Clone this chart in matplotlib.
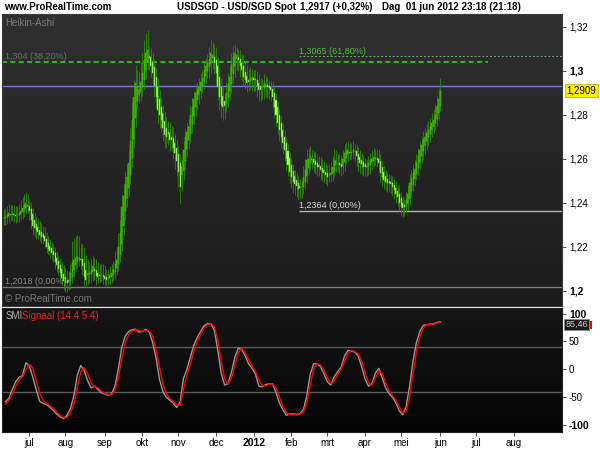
import matplotlib
matplotlib.use("Agg")
import matplotlib.pyplot as plt
import matplotlib.transforms as mtransforms
from matplotlib.colors import LinearSegmentedColormap
import numpy as np
import pandas as pd

plt.rcParams['font.family'] = ['Liberation Sans', 'DejaVu Sans']

# Heikin-Ashi close, one row per week (Mon..Fri), 10 jun 2011 -> 01 jun 2012
ha_close = [
    1.2330, 1.2336, 1.2345, 1.2352, 1.2348,
    1.2350, 1.2342, 1.2338, 1.2345, 1.2355,
    1.2362, 1.2375, 1.2390, 1.2398, 1.2385,
    1.2360, 1.2320, 1.2295, 1.2285, 1.2275,
    1.2265, 1.2255, 1.2245, 1.2240, 1.2225,
    1.2200, 1.2190, 1.2180, 1.2170, 1.2160,
    1.2130, 1.2115, 1.2100, 1.2080, 1.2057,
    1.2045, 1.2035, 1.2034, 1.2050, 1.2080,
    1.2125, 1.2140, 1.2150, 1.2152, 1.2148,
    1.2140, 1.2110, 1.2060, 1.2050, 1.2075,
    1.2080, 1.2095, 1.2110, 1.2090, 1.2065,
    1.2063, 1.2068, 1.2070, 1.2062, 1.2055,
    1.2050, 1.2058, 1.2070, 1.2080, 1.2095,
    1.2120, 1.2140, 1.2200, 1.2260, 1.2380,
    1.2430, 1.2480, 1.2516, 1.2580, 1.2680,
    1.2776, 1.2880, 1.2944, 1.2926, 1.2912,
    1.2950, 1.2990, 1.3048, 1.3080, 1.3094,
    1.3057, 1.3020, 1.2989, 1.2930, 1.2880,
    1.2820, 1.2800, 1.2776, 1.2740, 1.2708,
    1.2700, 1.2710, 1.2685, 1.2685, 1.2650,
    1.2625, 1.2590, 1.2540, 1.2470, 1.2560,
    1.2640, 1.2700, 1.2720, 1.2744, 1.2800,
    1.2835, 1.2870, 1.2898, 1.2910, 1.2926,
    1.2950, 1.2965, 1.3003, 1.3020, 1.3034,
    1.3050, 1.3080, 1.3070, 1.3034, 1.2990,
    1.2926, 1.2880, 1.2844, 1.2835, 1.2840,
    1.2898, 1.2940, 1.2970, 1.3030, 1.3062,
    1.3080, 1.3070, 1.3048, 1.3020, 1.3003,
    1.2970, 1.2957, 1.2944, 1.2950, 1.2965,
    1.2970, 1.2960, 1.2957, 1.2930, 1.2912,
    1.2912, 1.2920, 1.2944, 1.2935, 1.2926,
    1.2920, 1.2912, 1.2880, 1.2835, 1.2800,
    1.2760, 1.2730, 1.2700, 1.2670, 1.2640,
    1.2600, 1.2570, 1.2540, 1.2518, 1.2495,
    1.2487, 1.2475, 1.2463, 1.2466, 1.2470,
    1.2516, 1.2550, 1.2594, 1.2600, 1.2608,
    1.2600, 1.2580, 1.2570, 1.2563, 1.2560,
    1.2549, 1.2540, 1.2534, 1.2525, 1.2516,
    1.2525, 1.2534, 1.2560, 1.2594, 1.2590,
    1.2580, 1.2570, 1.2563, 1.2600, 1.2625,
    1.2635, 1.2639, 1.2625, 1.2630, 1.2639,
    1.2635, 1.2610, 1.2594, 1.2580, 1.2575,
    1.2563, 1.2560, 1.2563, 1.2580, 1.2594,
    1.2600, 1.2608, 1.2605, 1.2594, 1.2580,
    1.2534, 1.2515, 1.2503, 1.2495, 1.2489,
    1.2489, 1.2485, 1.2470, 1.2457, 1.2440,
    1.2426, 1.2400, 1.2380, 1.2375, 1.2380,
    1.2410, 1.2440, 1.2489, 1.2510, 1.2534,
    1.2555, 1.2580, 1.2610, 1.2639, 1.2660,
    1.2685, 1.2700, 1.2716, 1.2730, 1.2744,
    1.2760, 1.2776, 1.2800, 1.2835, 1.2870,
    1.2909,
]

# typical wick length above / below the body for each week (x 0.001)
wick_up = [4, 4, 5, 3, 4, 3, 3, 4, 10, 7, 5, 5, 4, 6, 6, 8, 9, 4, 4, 5, 4, 4, 4, 4, 6, 4,
           5, 4, 5, 4, 4, 3, 3, 3, 3, 5, 4, 4, 5, 4, 4, 3, 3, 4, 3, 3, 3, 4, 4, 4, 5, 6]
wick_dn = [3, 3, 3, 4, 3, 3, 3, 4, 3, 4, 4, 3, 3, 3, 4, 4, 4, 5, 6, 5, 7, 4, 4, 3, 5, 6,
           4, 5, 4, 5, 5, 5, 5, 5, 5, 3, 4, 4, 3, 4, 3, 5, 4, 3, 4, 4, 4, 3, 3, 4, 3, 2]

# SMI and its signal line, read every second bar
smi = [
    -58, -52, -36, -22, -14, -11, 12, 6,
    -14, -36, -57, -61, -63, -68, -73, -80,
    -85, -88, -82, -70, -47, -10, 7, -2,
    -20, -33, -30, -36, -42, -44, -46, -44,
    -30, 2, 40, 60, 68, 71, 72, 67,
    68, 72, 67, 48, 20, -18, -40, -50,
    -55, -60, -68, -58, -16, 0, 22, 43,
    57, 68, 78, 82, 82, 70, 35, -7,
    -28, -25, -5, 22, 38, 36, 24, 10,
    2, -8, -30, -31, -27, -26, -26, -41,
    -60, -72, -82, -80, -79, -81, -79, -72,
    -47, -8, 10, 10, 5, -8, -22, -28,
    -13, -4, 4, 24, 34, 33, 31, 24,
    5, -17, -30, -25, -7, 2, -15, -33,
    -43, -50, -60, -74, -81, -67, -30, 15,
    48, 68, 79, 80, 81, 82, 84, 85.46,
]
smi_signal = [
    -62, -56, -44, -30, -19, -13, -1, 9,
    2, -20, -42, -56, -61, -65, -70, -76,
    -82, -86, -86, -78, -62, -32, -4, 3,
    -8, -24, -31, -33, -39, -43, -45, -45,
    -38, -14, 20, 48, 63, 69, 71, 70,
    68, 70, 69, 59, 35, 3, -27, -44,
    -52, -57, -64, -64, -35, -9, 10, 32,
    50, 62, 73, 80, 82, 77, 52, 14,
    -17, -27, -15, 8, 30, 38, 30, 17,
    6, -3, -19, -29, -29, -27, -26, -33,
    -50, -66, -77, -81, -80, -80, -80, -76,
    -60, -27, 1, 10, 8, -1, -15, -25,
    -21, -9, 0, 14, 29, 34, 32, 28,
    15, -6, -24, -28, -16, -3, -7, -24,
    -38, -47, -55, -67, -78, -75, -48, -8,
    32, 58, 74, 80, 80, 81, 83, 84.53,
]

month_names = ['jan', 'feb', 'mrt', 'apr', 'mei', 'jun', 'jul', 'aug', 'sep', 'okt', 'nov', 'dec']
price_ticks = [1.20, 1.22, 1.24, 1.26, 1.28, 1.30, 1.32]
price_labels = ['1,2', '1,22', '1,24', '1,26', '1,28', '1,3', '1,32']
smi_ticks = [-100, -50, 0, 50, 100]
smi_labels = ['-100', '-50', '0', '50', '100']

fib_382, fib_618 = 1.304, 1.3065
low_a, low_b = 1.2018, 1.2364
blue_level = 1.2930
last_close = 1.2909

# ---- derived
close = np.array(ha_close)
n = len(close)
opens = np.empty(n)
opens[0] = close[0]
for i in range(1, n):
    opens[i] = (opens[i - 1] + close[i - 1]) / 2
idx = np.arange(n)
wk = idx // 5
hi = np.maximum(opens, close) + np.array(wick_up)[wk] * 0.001
lo = np.minimum(opens, close) - np.array(wick_dn)[wk] * 0.001

axis_days = pd.bdate_range('2011-06-10', '2012-08-31')
tick_pos, tick_lab = [], []
for i in range(1, len(axis_days)):
    if axis_days[i].month != axis_days[i - 1].month:
        tick_pos.append(i)
        m = axis_days[i].month
        tick_lab.append(str(axis_days[i].year) if m == 1 else month_names[m - 1])
xmax = 326

fig = plt.figure(figsize=(6, 4.5), dpi=100, facecolor='white')
ax = fig.add_axes([0.0033, 0.32, 0.9334, 0.6489])
ax2 = fig.add_axes([0.0033, 0.04, 0.9334, 0.2756])

grad = np.linspace(0, 1, 256).reshape(-1, 1)
ax.imshow(grad, cmap=LinearSegmentedColormap.from_list('g1', ['#1b1b1b', '#303030']),
          extent=[0, 1, 0, 1], transform=ax.transAxes, aspect='auto', zorder=0, origin='lower')
ax2.imshow(grad, cmap=LinearSegmentedColormap.from_list('g2', ['#040404', '#161616']),
           extent=[0, 1, 0, 1], transform=ax2.transAxes, aspect='auto', zorder=0, origin='lower')

# levels
ax.hlines(low_a, -1, xmax, color='#7a7a7a', lw=1, zorder=1)
ax.hlines(low_b, 172.5, xmax, color='#b0b0b0', lw=1, zorder=1)
ax.hlines(fib_618, 172.5, xmax, color='#7fa07f', lw=0.7, linestyles=(0, (2, 2)), zorder=1)
ax.hlines(fib_382, -1, 282.6, color='#22dd00', lw=1.2, linestyles=(0, (3, 2)), zorder=1)
ax.hlines(blue_level, -1, xmax, color='#7878ff', lw=1, zorder=1)

# candles
up = close >= opens
ax.vlines(idx, lo, hi, color='#2a8a00', lw=0.6, zorder=2)
ax.bar(idx[up], (close - opens)[up], bottom=opens[up], width=0.6,
       color='#2f8a00', edgecolor='#4cd400', linewidth=0.35, zorder=3)
ax.bar(idx[~up], (close - opens)[~up], bottom=opens[~up], width=0.6,
       color='#dcffc8', edgecolor='#4cd400', linewidth=0.35, zorder=3)

ax.set_xlim(-1, xmax)
ax.set_ylim(1.193, 1.3258)
ax.set_xticks([])
ax.yaxis.tick_right()
ax.set_yticks(price_ticks)
ax.set_yticklabels(price_labels)
ax.tick_params(axis='y', labelsize=7, length=3, width=0.6, color='#333333', pad=2)
for t in ax.get_yticklabels():
    if t.get_text() in ('1,2', '1,3'):
        t.set_fontweight('bold')
        t.set_fontsize(7.5)
for s in ax.spines.values():
    s.set_color('#3a3a3a')

ax.text(0.006, 0.985, 'Heikin-Ashi', transform=ax.transAxes, color='#7a7a7a', fontsize=7, va='top')
ax.text(0.006, 0.008, '\u00a9 ProRealTime.com', transform=ax.transAxes, color='#7a7a7a', fontsize=7, va='bottom')
ax.text(0.5, fib_382 + 0.0004, '1,304 (38,20%)', color='#707070', fontsize=6.5, va='bottom')
ax.text(172.5, fib_618 + 0.0004, '1,3065 (61,80%)', color='#55bb44', fontsize=6.5, va='bottom')
ax.text(172.5, low_b + 0.0004, '1,2364 (0,00%)', color='#dddddd', fontsize=6.5, va='bottom')
ax.text(0.5, low_a + 0.0004, '1,2018 (0,00%)', color='#8a8a8a', fontsize=6.5, va='bottom')

tr = mtransforms.blended_transform_factory(ax.transAxes, ax.transData)
ax.text(1.008, last_close, '1,2909', transform=tr, fontsize=7, va='center', ha='left', color='black',
        bbox=dict(boxstyle='square,pad=0.18', fc='#ffee00', ec='#c8b400', lw=0.6), zorder=5)

# SMI panel
sx = np.arange(1, n, 2)
ax2.axhline(40, color='#5a5a5a', lw=1, zorder=1)
ax2.axhline(-40, color='#5a5a5a', lw=1, zorder=1)
ax2.plot(sx, smi, color='#9a9a9a', lw=1, zorder=3)
ax2.plot(sx, smi_signal, color='#ff0000', lw=1, zorder=4)
ax2.set_xlim(-1, xmax)
ax2.set_ylim(-112, 110)
ax2.yaxis.tick_right()
ax2.set_yticks(smi_ticks)
ax2.set_yticklabels(smi_labels)
ax2.set_xticks(tick_pos)
ax2.set_xticklabels(tick_lab)
ax2.tick_params(axis='y', labelsize=7, length=3, width=0.6, color='#333333', pad=2)
ax2.tick_params(axis='x', labelsize=7, length=3, width=0.6, color='#333333', pad=1)
for t in ax2.get_yticklabels():
    if t.get_text() in ('100', '-100'):
        t.set_fontweight('bold')
        t.set_fontsize(7.5)
for t in ax2.get_xticklabels():
    if t.get_text() == '2012':
        t.set_fontweight('bold')
        t.set_fontsize(7.5)
for s in ax2.spines.values():
    s.set_color('#222222')

ax2.text(0.006, 0.975, 'SMI', transform=ax2.transAxes, color='#b0b0b0', fontsize=7, va='top')
ax2.text(0.036, 0.975, 'Signaal (14 4 5 4)', transform=ax2.transAxes, color='#ff1a1a', fontsize=7, va='top')

tr2 = mtransforms.blended_transform_factory(ax2.transAxes, ax2.transData)
ax2.text(1.006, smi[-1] - 5, '85,46', transform=tr2, fontsize=6.5, va='center', ha='left', color='#cccccc',
         bbox=dict(boxstyle='square,pad=0.1', fc='#1a1a1a', ec='#888888', lw=0.6), zorder=6)
ax2.plot([1.052, 1.052], [smi_signal[-1] - 11, smi_signal[-1] + 1], transform=tr2,
         color='#ff0000', lw=1.5, clip_on=False, zorder=7)

# header
fig.text(0.007, 0.984, 'www.ProRealTime.com', fontsize=7, fontweight='bold', va='center')
fig.text(0.4933, 0.984, 'USDSGD - USD/SGD Spot', fontsize=7, fontweight='bold', va='center', ha='right')
fig.text(0.50, 0.984, '1,2917 (+0,32%)', fontsize=7, fontweight='bold', va='center')
fig.text(0.637, 0.984, 'Dag  01 jun 2012 23:18 (21:18)', fontsize=7, fontweight='bold', va='center')

fig.savefig('out.png', dpi=100, facecolor='white')
